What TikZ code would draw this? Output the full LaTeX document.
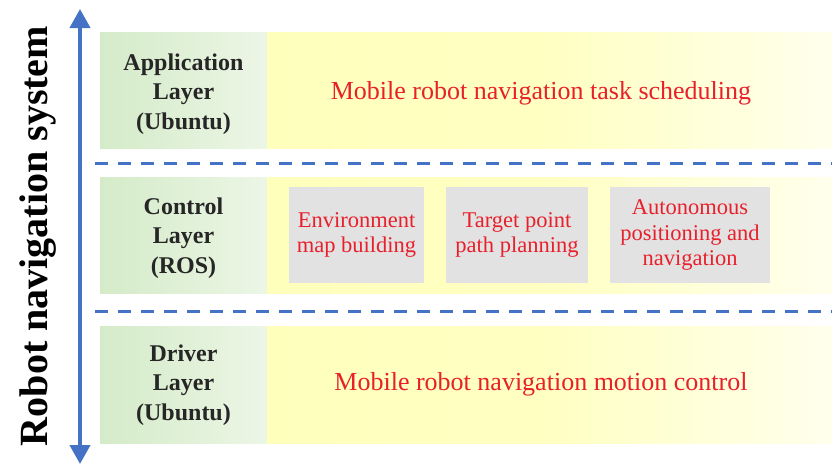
\documentclass[tikz,border=0pt]{standalone}
\usepackage{fontspec}
\setmainfont{Liberation Serif}
\usetikzlibrary{arrows.meta}
\definecolor{axisblue}{RGB}{68,114,196}
\definecolor{layergreen}{RGB}{212,235,200}
\definecolor{layergreenlight}{RGB}{236,246,230}
\definecolor{bandyellow}{RGB}{255,255,188}
\definecolor{bandyellowlight}{RGB}{255,255,236}
\definecolor{taskgrey}{RGB}{226,226,226}
\definecolor{taskred}{RGB}{232,32,44}
\tikzset{
    layername/.style={font=\fontsize{24}{29.5}\selectfont\bfseries, align=center, text=black!85},
    tasktext/.style={font=\fontsize{26}{30}\selectfont, text=taskred},
    subtask/.style={fill=taskgrey, font=\fontsize{22.5}{25.5}\selectfont, text=taskred, align=center, minimum height=96pt, inner sep=0pt}
}
\begin{document}
\begin{tikzpicture}[x=1pt, y=-1pt]
        \useasboundingbox (0,0) rectangle (832,466);
        \foreach \ytop/\ybot in {32/148, 177/293, 326/443} {
            \shade[left color=layergreen, right color=layergreenlight] (100,\ytop) rectangle (267,\ybot);
            \shade[left color=bandyellow, right color=bandyellowlight, middle color=bandyellow!90] (267,\ytop) rectangle (832,\ybot);
        }
        \foreach \y in {163, 311}
            \draw[axisblue, line width=3pt, dash pattern=on 13pt off 10pt] (95,\y) -- (832,\y);
        % vertical axis
        \coordinate (axistop) at (80,9);
        \coordinate (axisbot) at (80,464);
        \draw[axisblue, line width=4pt, {Triangle[width=20pt,length=19pt]}-{Triangle[width=20pt,length=19pt]}] (axisbot) -- (axistop);
        \node[rotate=90, font=\fontsize{40}{42}\selectfont\bfseries] (sysname) at (38,236) {Robot navigation system};
        % layers
        \node[layername] (applayer) at (183.5,94) {Application\\Layer\\(Ubuntu)};
        \node[layername] (ctrllayer) at (183.5,238) {Control\\Layer\\(ROS)};
        \node[layername] (drvlayer) at (183.5,385) {Driver\\Layer\\(Ubuntu)};
        \node[tasktext] (apptask) at (541,93) {Mobile robot navigation task scheduling};
        \node[subtask, minimum width=135pt] (envmap) at (356.5,235) {Environment\\map building};
        \node[subtask, minimum width=142pt] (pathplan) at (517,235) {Target point\\path planning};
        \node[subtask, minimum width=160pt] (autonav) at (690,235) {Autonomous\\positioning and\\navigation};
        \node[tasktext] (drvtask) at (541,384) {Mobile robot navigation motion control};
\end{tikzpicture}
\end{document}
